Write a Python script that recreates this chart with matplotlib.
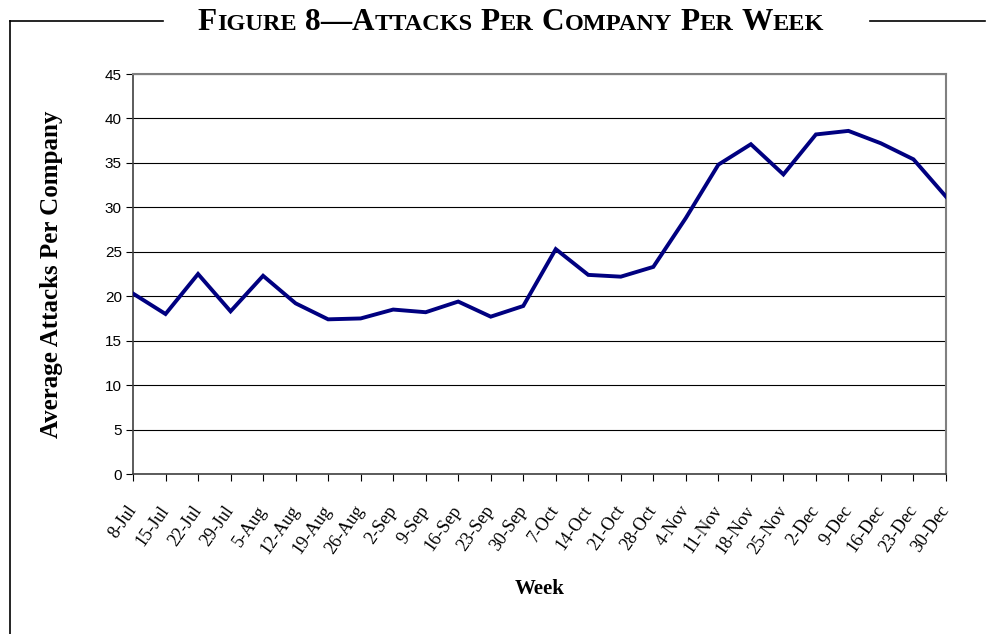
import matplotlib
matplotlib.use("Agg")
import matplotlib.pyplot as plt
from matplotlib.offsetbox import TextArea, HPacker, AnchoredOffsetbox
from matplotlib.lines import Line2D

weeks = ['8-Jul', '15-Jul', '22-Jul', '29-Jul', '5-Aug', '12-Aug', '19-Aug', '26-Aug',
         '2-Sep', '9-Sep', '16-Sep', '23-Sep', '30-Sep', '7-Oct', '14-Oct', '21-Oct',
         '28-Oct', '4-Nov', '11-Nov', '18-Nov', '25-Nov', '2-Dec', '9-Dec', '16-Dec',
         '23-Dec', '30-Dec']
attacks = [20.3, 18.0, 22.5, 18.3, 22.3, 19.2, 17.4, 17.5, 18.5, 18.2, 19.4, 17.7, 18.9,
           25.3, 22.4, 22.2, 23.3, 28.8, 34.8, 37.1, 33.7, 38.2, 38.6, 37.2, 35.4, 31.2]
y_ticks = [0, 5, 10, 15, 20, 25, 30, 35, 40, 45]

serif = 'Liberation Serif'
sans = 'Liberation Sans'

fig = plt.figure(figsize=(9.9, 6.34), dpi=100)
ax = fig.add_axes([133 / 990, 1 - 474 / 634, 813 / 990, 400 / 634])

x = list(range(len(weeks)))
ax.plot(x, attacks, color='#000080', lw=2.8, solid_joinstyle='miter', zorder=3)

ax.set_xlim(0, len(weeks) - 1)
ax.set_ylim(0, 45)
ax.set_yticks(y_ticks)
ax.set_yticklabels([str(v) for v in y_ticks], fontfamily=sans, fontsize=11)
ax.set_xticks(x)
ax.set_xticklabels(weeks, rotation=55, ha='right', va='center', rotation_mode='anchor',
                   fontfamily=serif, fontsize=13)
ax.tick_params(axis='both', direction='out', length=5, width=0.8, color='black')
ax.tick_params(axis='x', pad=19)
ax.tick_params(axis='y', pad=3)

#gridlines
ax.yaxis.grid(True, color='black', lw=0.8)
ax.set_axisbelow(True)
for s in ['top', 'right']:
    ax.spines[s].set_color('#808080')
    ax.spines[s].set_linewidth(1.5)
for s in ['left', 'bottom']:
    ax.spines[s].set_color('#404040')
    ax.spines[s].set_linewidth(1.2)

fig.text(52 / 990, 1 - 274 / 634, 'Average Attacks Per Company', fontfamily=serif,
         fontweight='bold', fontsize=18, rotation=90, ha='center', va='center')
fig.text(540 / 990, 1 - 589 / 634, 'Week', fontfamily=serif, fontweight='bold',
         fontsize=15, ha='center', va='center')

#title in small caps, built from pieces
title = 'Figure 8—Attacks Per Company Per Week'
big = dict(fontfamily=serif, fontweight='bold', fontsize=22.5)
small = dict(fontfamily=serif, fontweight='bold', fontsize=17.5)
parts = []
for word in title.split(' '):
    pieces = []
    chunk = ''
    for ch in word:
        if ch.isupper() or ch.isdigit() or ch == '—':
            if chunk:
                pieces.append(TextArea(chunk.upper(), textprops=small))
                chunk = ''
            pieces.append(TextArea(ch, textprops=big))
        else:
            chunk += ch
    if chunk:
        pieces.append(TextArea(chunk.upper(), textprops=small))
    parts.append(HPacker(children=pieces, align='baseline', pad=0, sep=0))
tbox = HPacker(children=parts, align='baseline', pad=0, sep=6)
anch = AnchoredOffsetbox(loc='center', child=tbox, frameon=False,
                         bbox_to_anchor=(511 / 990, 1 - 23 / 634),
                         bbox_transform=fig.transFigure, borderpad=0, pad=0)
fig.add_artist(anch)

#frame lines
fig.add_artist(Line2D([10 / 990, 163 / 990], [1 - 21 / 634, 1 - 21 / 634],
                      transform=fig.transFigure, color='black', lw=1.2))
fig.add_artist(Line2D([870 / 990, 985 / 990], [1 - 21 / 634, 1 - 21 / 634],
                      transform=fig.transFigure, color='black', lw=1.2))
fig.add_artist(Line2D([10 / 990, 10 / 990], [1 - 21 / 634, 0],
                      transform=fig.transFigure, color='black', lw=1.2))

fig.savefig('out.png', dpi=100)
